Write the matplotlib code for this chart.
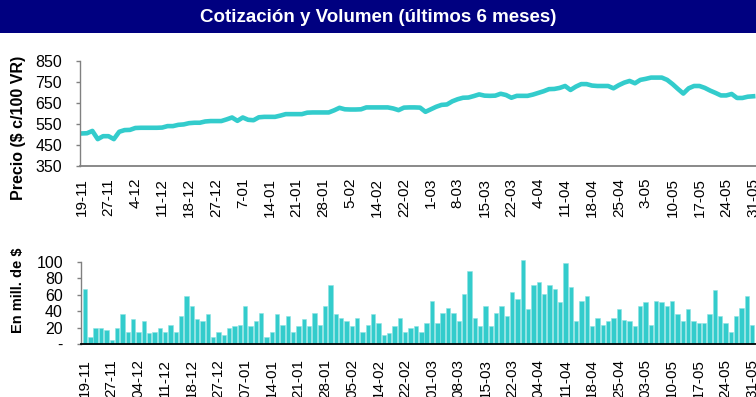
import matplotlib
matplotlib.use("Agg")
import matplotlib.pyplot as plt
from matplotlib.patches import Rectangle
import numpy as np

plt.rcParams['font.family'] = ['Liberation Sans', 'DejaVu Sans']

# Cotizacion diaria ($ c/100 VR)
precio = [505, 506, 517, 478, 492, 492, 478, 513, 521, 522,
          531, 532, 532, 532, 532, 533, 540, 540, 546, 548,
          554, 556, 556, 562, 564, 564, 564, 572, 581, 565,
          581, 570, 568, 582, 584, 584, 584, 590, 597, 597,
          597, 597, 604, 605, 605, 605, 605, 615, 627, 620,
          619, 619, 620, 629, 629, 629, 629, 629, 624, 616,
          628, 629, 629, 628, 608, 620, 632, 641, 643, 658,
          668, 675, 676, 683, 691, 685, 684, 685, 694, 688,
          675, 684, 684, 684, 690, 698, 706, 716, 717, 722,
          731, 712, 728, 740, 740, 733, 731, 731, 731, 720,
          735, 747, 755, 744, 760, 765, 771, 771, 771, 760,
          740, 717, 695, 720, 731, 731, 722, 709, 698, 686,
          686, 693, 674, 674, 680, 682]

# Volumen operado (millones de $)
volumen = [67.5, 9, 19.5, 19.5, 17.5, 5, 19.5, 36, 15, 30,
           15, 27.6, 13, 15, 19.5, 15, 23.6, 15, 33.7, 59,
           46, 30, 27.6, 36, 9, 15, 11, 19.5, 21.5, 23.6,
           46, 21.5, 27.6, 38, 9, 15, 36, 23.6, 33.7, 15,
           21.5, 30, 21.5, 38, 23.6, 46, 71.5, 36, 32, 27.6,
           21.5, 32, 15, 23.6, 36, 25.6, 11, 13, 21.5, 31.7,
           15, 19.5, 21.5, 15, 25.6, 52.8, 25.6, 38.2, 44.3, 38.2,
           27.6, 61, 88.6, 31.7, 21.5, 46.3, 21.5, 38.2, 46.3, 33.7,
           63.4, 54.9, 102.8, 42.3, 71.5, 75.6, 61, 71.5, 67.5, 50.8,
           98.4, 69.5, 27.6, 52.8, 59, 21.5, 31.7, 23.6, 27.6, 31.7,
           42.3, 29.7, 27.6, 21.5, 46.3, 50.8, 23.6, 52.8, 50.8, 46.3,
           52.8, 36.2, 27.6, 42.3, 27.6, 25.6, 25.6, 36.2, 65.4, 33.7,
           25.6, 15, 33.7, 44.3, 59, 23.6]

fechas_sup = ['19-11', '27-11', '4-12', '11-12', '18-12', '27-12', '7-01',
              '14-01', '21-01', '28-01', '5-02', '14-02', '22-02', '1-03',
              '8-03', '15-03', '22-03', '4-04', '11-04', '18-04', '25-04',
              '3-05', '10-05', '17-05', '24-05', '31-05']
fechas_inf = ['19-11', '27-11', '04-12', '11-12', '18-12', '27-12', '07-01',
              '14-01', '21-01', '28-01', '05-02', '14-02', '22-02', '01-03',
              '08-03', '15-03', '22-03', '04-04', '11-04', '18-04', '25-04',
              '03-05', '10-05', '17-05', '24-05', '31-05']

turquesa = '#33CCCC'
W, H = 756.0, 397.0

fig = plt.figure(figsize=(W / 100, H / 100), dpi=100)
fig.patch.set_facecolor('white')

# Banda de titulo
fig.add_artist(Rectangle((0, 1 - 33 / H), 1, 33 / H, transform=fig.transFigure,
                         facecolor='#000080', edgecolor='none'))
fig.text(0.5, 1 - 17 / H, u'Cotización y Volumen (últimos 6 meses)', color='white',
         fontsize=13.5, fontweight='bold', ha='center', va='center')

x = np.arange(len(precio))
ticks = np.arange(0, len(precio), 5)

# --- Precio ---
ax1 = fig.add_axes([80 / W, 1 - 166 / H, 700 / W, 105 / H])
ax1.plot(x, precio, color=turquesa, lw=3.3, solid_joinstyle='round')
ax1.set_xlim(-0.3, 130)
ax1.set_ylim(350, 850)
ax1.set_yticks([350, 450, 550, 650, 750, 850])
ax1.set_xticks(ticks)
ax1.set_xticklabels(fechas_sup, rotation=90, va='top')

# --- Volumen ---
ax2 = fig.add_axes([81 / W, 1 - 344 / H, 698 / W, 82 / H])
ax2.bar(x, volumen, width=0.82, color=turquesa, edgecolor='#8ee3e3', lw=0.4,
        clip_on=False)
ax2.set_xlim(-0.75, 130)
ax2.set_ylim(0, 100)
ax2.set_yticks([0, 20, 40, 60, 80, 100])
ax2.set_yticklabels(['-', '20', '40', '60', '80', '100'])
ax2.set_xticks(ticks)
ax2.set_xticklabels(fechas_inf, rotation=90, va='top')

for ax, col, xpad in ((ax1, '#808080', 8.5), (ax2, '#000000', 11)):
    for s in ('top', 'right'):
        ax.spines[s].set_visible(False)
    ax.spines['left'].set_color('#808080')
    ax.spines['left'].set_linewidth(1.0)
    ax.spines['bottom'].set_color(col)
    ax.spines['bottom'].set_linewidth(1.3)
    ax.tick_params(axis='y', direction='out', length=3, width=1, color='#808080',
                   labelsize=11.5, pad=10)
    ax.tick_params(axis='x', length=0, labelsize=11, pad=xpad)
    ax.set_facecolor('none')

fig.text(19 / W, 1 - 128 / H, 'Precio ($ c/100 VR)', rotation=90, fontsize=11.5,
         fontweight='bold', ha='center', va='center')
fig.text(18 / W, 1 - 290 / H, 'En mill. de $', rotation=90, fontsize=10.5,
         fontweight='bold', ha='center', va='center')

fig.savefig('out.png', dpi=100)
